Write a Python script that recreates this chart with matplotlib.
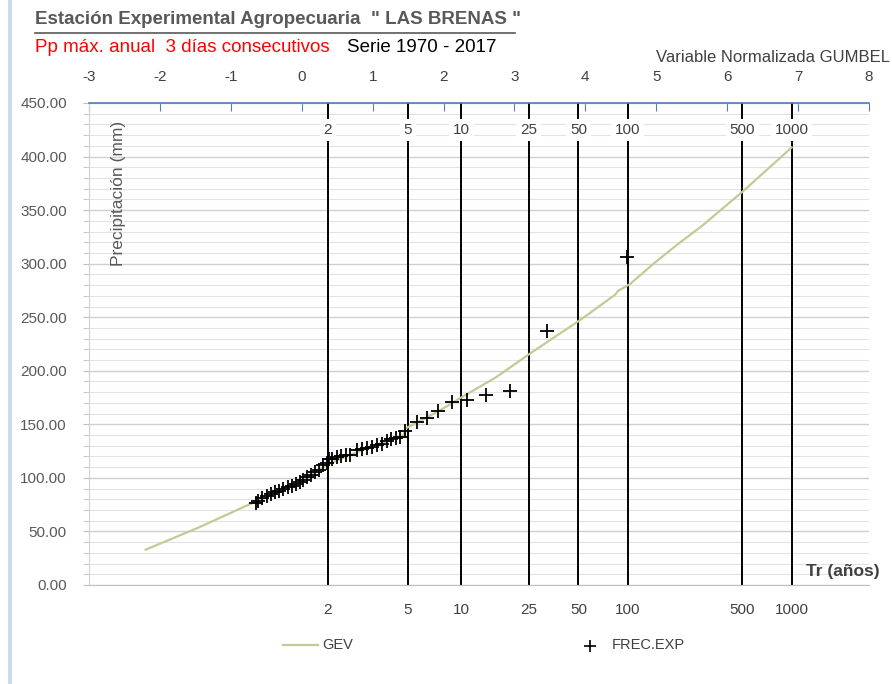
import numpy as np
import matplotlib
matplotlib.use("Agg")
import matplotlib.pyplot as plt
from matplotlib.ticker import MultipleLocator

# ---- data ----
return_periods = [2, 5, 10, 25, 50, 100, 500, 1000]
gumbel_ticks = list(range(-3, 9))
y_ticks = [0, 50, 100, 150, 200, 250, 300, 350, 400, 450]

# GEV fitted curve: Gumbel reduced variate vs precipitation (mm)
gev_g = [-2.20, -1.46, -0.73, -0.20, 0.38, 1.00, 1.44, 1.46, 1.75, 2.00, 2.26, 2.73,
         3.24, 3.94, 4.42, 4.46, 4.63, 4.98, 5.30, 5.64, 6.23, 6.91]
gev_v = [33.0, 53.5, 75.5, 90.5, 113.0, 130.0, 140.0, 146.0, 156.0, 165.0, 175.5, 193.5,
         217.0, 248.0, 271.0, 274.5, 281.0, 301.0, 318.0, 335.0, 368.0, 408.5]

# Experimental frequencies (FREC.EXP)
obs_g = [-0.649, -0.621, -0.554, -0.494, -0.433, -0.377, -0.320, -0.258, -0.197, -0.131,
         -0.085, -0.024, 0.024, 0.071, 0.131, 0.188, 0.244, 0.306, 0.353, 0.385,
         0.433, 0.494, 0.554, 0.621, 0.681, 0.776, 0.846, 0.917, 0.987, 1.058,
         1.128, 1.199, 1.259, 1.326, 1.386, 1.457, 1.622, 1.763, 1.928, 2.126,
         2.327, 2.600, 2.938, 3.456, 4.588]
obs_v = [76.4, 78.6, 80.8, 82.7, 84.9, 86.5, 88.0, 89.6, 91.2, 92.7,
         94.3, 96.5, 98.4, 100.7, 102.8, 105.4, 107.5, 111.6, 114.2, 117.3,
         117.9, 119.2, 120.5, 121.0, 121.7, 125.8, 127.4, 128.0, 129.0, 130.5,
         132.1, 134.2, 136.1, 137.5, 138.4, 143.7, 152.5, 156.3, 162.5, 170.8,
         172.6, 177.6, 181.4, 237.5, 305.9]

W, H = 892, 684
fig = plt.figure(figsize=(W / 100, H / 100), dpi=100)
plt.rcParams['font.family'] = ['Liberation Sans', 'DejaVu Sans']

x0, x1 = 89, 869
ytop, ybot = 103, 585
ax = fig.add_axes([x0 / W, 1 - ybot / H, (x1 - x0) / W, (ybot - ytop) / H])
ax.set_xlim(-3, 8)
ax.set_ylim(0, 450)

# grid
ax.yaxis.set_major_locator(MultipleLocator(50))
ax.yaxis.set_minor_locator(MultipleLocator(10))
ax.grid(axis='y', which='major', color='#cfcfcf', lw=1.0, zorder=0)
ax.grid(axis='y', which='minor', color='#e3e3e3', lw=0.8, zorder=0)
ax.set_yticks(y_ticks)
ax.set_yticklabels([f"{v:.2f}" for v in y_ticks], color='#595959', fontsize=11)
ax.tick_params(axis='y', which='both', direction='out', length=4, color='#bfbfbf', pad=12)

# top Gumbel axis
ax.xaxis.tick_top()
ax.set_xticks(gumbel_ticks)
ax.set_xticklabels([str(t) for t in gumbel_ticks], color='#404040', fontsize=11)
ax.tick_params(axis='x', which='both', direction='in', length=6, color='#4f7fb8', pad=14)
ax.spines['right'].set_visible(False)
ax.spines['top'].set_color('#4f7fb8')
ax.spines['top'].set_linewidth(1.2)
ax.spines['left'].set_color('#d0d0d0')
ax.spines['bottom'].set_color('#c0c0c0')

# return-period lines
t_pos = [-np.log(-np.log(1 - 1 / t)) for t in return_periods]
for t, g in zip(return_periods, t_pos):
    ax.axvline(g, color='black', lw=1.4, zorder=2)
    ax.text(g, 425, str(t), ha='center', va='center', fontsize=11, color='#404040',
            bbox=dict(boxstyle='square,pad=0.25', fc='white', ec='none'), zorder=3)
    ax.text(g, -23, str(t), ha='center', va='center', fontsize=11, color='#404040',
            clip_on=False)

# curves
ax.plot(gev_g, gev_v, color='#c2cb95', lw=1.6, zorder=4)
ax.plot(obs_g, obs_v, ls='none', marker='+', ms=10, mew=1.3, color='black', zorder=5)

ax.text(-2.58, 433, 'Precipitación (mm)', rotation=90, ha='center', va='top',
        fontsize=12.5, color='#595959')
ax.text(8.15, 6, 'Tr (años)', ha='right', va='bottom', fontsize=12.5, fontweight='bold',
        color='#404040', clip_on=False)

# titles
fig.text(35 / W, 1 - 20 / H, 'Estación Experimental Agropecuaria  " LAS BRENAS "',
         fontsize=13.5, fontweight='bold', color='#595959', va='center', ha='left')
fig.add_artist(plt.Line2D([35 / W, 515 / W], [1 - 33 / H, 1 - 33 / H], color='#595959', lw=1.2))
fig.text(35 / W, 1 - 47 / H, 'Pp máx. anual  3 días consecutivos', fontsize=13.5,
         color='#ff0000', va='center', ha='left')
fig.text(347 / W, 1 - 47 / H, 'Serie 1970 - 2017', fontsize=13.5, color='black',
         va='center', ha='left')
fig.text(890 / W, 1 - 57 / H, 'Variable Normalizada GUMBEL', fontsize=12,
         color='#404040', va='center', ha='right')

# legend (manual, Excel style)
fig.add_artist(plt.Line2D([283 / W, 318 / W], [1 - 645 / H, 1 - 645 / H], color='#c2cb95', lw=1.6))
fig.text(322 / W, 1 - 645 / H, 'GEV', fontsize=10.5, color='#404040', va='center', ha='left')
fig.add_artist(plt.Line2D([590 / W], [1 - 646 / H], marker='+', ms=8, mew=1.2, color='black', ls='none'))
fig.text(612 / W, 1 - 645 / H, 'FREC.EXP', fontsize=10.5, color='#404040', va='center', ha='left')

# left frame border
fig.add_artist(plt.Line2D([10 / W, 10 / W], [0, 1], color='#c9dcea', lw=3))

fig.savefig('out.png', dpi=100)
